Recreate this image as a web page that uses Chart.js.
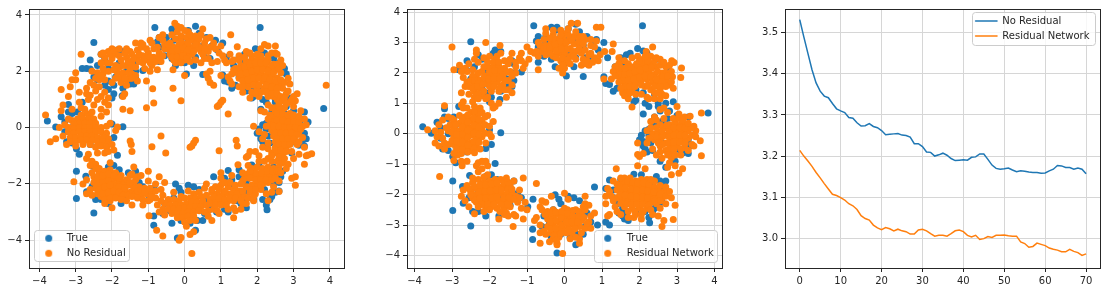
<!DOCTYPE html>
<html>
<head>
<meta charset="utf-8">
<script src="https://cdn.jsdelivr.net/npm/chart.js"></script>
<style>
  body { margin: 0; background: #fff; }
  canvas { position: absolute; top: 0; }
</style>
</head>
<body>
<canvas id="noResChart" width="360" height="292" style="left:0"></canvas>
<canvas id="resChart" width="360" height="292" style="left:370px"></canvas>
<canvas id="lossChart" width="357" height="292" style="left:750px"></canvas>
<script>
// ========== DATA ========== //
const trueTop = [[-0.82,3.55],[-0.35,3.5],[-0.2,3.5],[-0.25,3.4],[0.1,3.45],[0.3,3.6],[0.4,3.35],[-0.5,3.2],[-0.7,3.2],[-0.75,3.05],[-0.7,2.85],[-0.7,2.35],[-0.25,2.2],[0.05,1.9],[0.25,2.2],[0.5,1.88],[0.9,2.75],[1.05,3.0],[1.15,2.5],[-0.5,3.0],[-0.4,2.7],[-0.3,3.1],[-0.1,3.2],[0.1,3.1],[0.3,3.0],[0.5,2.9],[-0.1,2.7],[0.1,2.6],[0.3,2.5],[0.55,2.5],[0.7,2.45],[-0.35,2.45],[0,2.3],[0.6,3.2],[0.75,2.9],[-0.55,2.55],[0.85,3.1]];
const trueTopRight = [[2.08,3.55],[1.35,2.2],[1.5,2.5],[1.65,2.6],[1.75,2.65],[1.95,2.8],[2.1,2.72],[2.2,2.65],[1.05,1.87],[1.1,1.65],[1.2,1.62],[1.3,1.4],[1.4,1.5],[2.1,1.35],[1.9,1.1],[1.85,1.05],[2.1,0.65],[2.15,1.0],[2.25,0.9],[2.45,2.45],[2.6,2.3],[2.75,2.1],[2.8,1.9],[2.6,1.6],[2.4,1.3],[1.7,1.3],[1.5,1.8],[1.7,2.1],[2,1.8],[2.2,2.1],[2.5,1.0],[1.55,2.3],[1.9,1.45]];
const trueRight = [[3.83,0.68],[2.4,0.55],[2.7,1.0],[2.9,1.05],[2.8,0.75],[2.5,0.9],[2.55,0.75],[3.3,0.55],[3.0,0.6],[3.2,0.3],[3.4,0.2],[3.35,-0.4],[3.3,-0.65],[3.15,-0.63],[3.0,-0.5],[2.0,-0.2],[2.1,-0.4],[2.15,0.1],[2.3,-0.3],[2.15,-0.5],[2.55,-0.9],[2.7,-1.1],[2.95,-0.9],[3.2,0.1],[3.3,-0.2],[2.4,0.3],[2.6,0.4],[2.8,0.2],[2.6,-0.3],[2.9,-0.2],[2.25,-0.05],[3.05,0.25],[2.35,-0.55],[2.75,0.5],[2.05,-0.05],[2.1,-0.25],[2.2,-0.6],[2.25,0.15],[3.1,-0.55],[3.25,-0.45]];
const trueBottomRight = [[1.2,-1.52],[1.1,-1.8],[1.5,-1.5],[1.85,-1.33],[2.05,-1.35],[2.45,-1.4],[2.27,-2.92],[2.25,-2.75],[2.7,-1.55],[2.65,-1.75],[1.6,-2.8],[1.6,-2.6],[1.3,-1.85],[1.5,-1.75],[1.7,-1.9],[1.45,-2.6],[1.55,-2.45],[2.35,-2.55],[2.5,-2.3],[2.6,-2.25],[2.45,-2.0],[2.6,-1.95],[1.2,-3.0],[1.1,-2.9],[1.75,-2.3],[2.0,-2.0],[2.2,-2.2],[1.9,-2.55],[1.65,-2.7],[2.3,-1.7],[1.4,-2.3],[2.15,-2.55],[1.55,-2.7],[1.65,-2.55],[1.7,-2.85],[2.55,-1.55],[2.4,-2.45],[1.3,-2.1]];
const trueBottom = [[-0.85,-3.14],[-0.85,-3.47],[-0.84,-2.15],[-0.98,-2.4],[-0.2,-3.92],[0.3,-3.65],[0.5,-3.3],[0.8,-1.75],[0.88,-3.0],[-0.25,-2.0],[-0.55,-2.7],[-0.6,-3.05],[-0.35,-3.4],[-0.1,-3.3],[0.15,-3.4],[0.35,-3.3],[0.1,-2.05],[0.25,-2.1],[0.4,-2.2],[-0.1,-2.3],[0.6,-2.6],[0.7,-2.9],[-0.3,-2.5],[0,-2.8],[0.3,-2.7],[-0.4,-2.95],[0.55,-3.05],[-0.15,-2.15]];
const trueBottomLeft = [[-2.98,-1.55],[-2.98,-2.52],[-2.5,-3.03],[-2.53,-1.37],[-2.72,-1.73],[-2.7,-2.28],[-2.55,-2.1],[-2.45,-2.55],[-2.3,-2.55],[-2.1,-2.7],[-1.75,-2.7],[-2.1,-1.4],[-1.95,-1.35],[-1.8,-1.5],[-1.55,-1.6],[-1.35,-1.55],[-1.25,-1.95],[-1.15,-2.1],[-1.45,-2.35],[-1.6,-2.4],[-2.0,-1.7],[-2.3,-1.9],[-1.7,-2.0],[-1.9,-2.3],[-2.2,-2.2]];
const trueLeft = [[-3.78,0.23],[-3.55,0.02],[-3.4,0.38],[-3.2,0.55],[-3.2,0.82],[-3.1,0.5],[-2.95,0.55],[-3.3,0.2],[-3.3,-0.15],[-3.25,-0.5],[-3.1,-0.55],[-2.98,-0.75],[-2.9,-0.95],[-2.6,-0.6],[-2.4,-0.4],[-1.7,0.03],[-2.0,0.13],[-1.95,-0.35],[-2.1,-0.48],[-1.85,-0.98],[-2.82,0.9],[-2.9,0.3],[-2.6,0.2],[-2.75,-0.2],[-2.5,0.1],[-3.1,0.0]];
const trueTopLeft = [[-2.5,3.02],[-2.6,2.4],[-2.82,2.1],[-2.7,2.1],[-2.6,2.08],[-2.5,1.8],[-2.4,1.7],[-2.2,1.5],[-2.1,1.35],[-2.1,1.65],[-1.95,1.5],[-1.95,1.2],[-2.0,1.05],[-1.72,1.13],[-1.7,1.4],[-1.4,1.55],[-1.5,1.55],[-1.35,1.75],[-1.35,2.0],[-1.15,2.03],[-1.35,2.3],[-1.4,2.4],[-1.7,2.7],[-1.85,2.75],[-1.9,2.65],[-2.3,2.6],[-2.2,2.45],[-2.4,2.2],[-1.5,1.8],[-1.6,2.0],[-2.1,2.1],[-1.8,2.3],[-1.9,1.8]];
const truePoints = [...trueTop, ...trueTopRight, ...trueRight, ...trueBottomRight, ...trueBottom, ...trueBottomLeft, ...trueLeft, ...trueTopLeft];

const noResLeft = [[-3.83,0.45],[-3.7,-0.5],[-3.55,-0.4],[-3.4,1.35],[-3.35,0.8],[-3.4,0.6],[-3.15,1.45],[-3.2,1.1],[-3.1,0.65],[-3.1,1.7],[-3.0,1.7],[-3.0,1.95],[-2.85,2.6],[-2.9,1.25],[-2.7,1.4],[-2.7,1.2],[-2.9,0.9],[-2.65,1.0],[-2.5,0.8],[-2.4,1.0],[-2.3,1.1],[-2.2,0.9],[-2.3,0.65],[-2.1,1.05],[-2.1,0.8],[-2.75,0.65],[-2.7,0.5],[-2.85,0.45],[-2.6,0.45],[-2.95,0.3],[-2.8,0.3],[-2.65,0.3],[-2.5,0.3],[-3.1,0.25],[-3.2,0.3],[-2.9,0.15],[-2.75,0.15],[-2.6,0.15],[-2.45,0.15],[-3.05,0.1],[-3.3,0.1],[-3.45,0],[-3.2,0],[-3.05,-0.05],[-2.9,0],[-2.75,0],[-2.6,0],[-2.45,0],[-2.3,0],[-2.15,0.05],[-2.05,0.15],[-1.9,-0.1],[-1.85,0.02],[-3.2,-0.15],[-3.05,-0.2],[-2.9,-0.15],[-2.75,-0.15],[-2.6,-0.15],[-2.45,-0.15],[-2.3,-0.15],[-2.15,-0.2],[-3.15,-0.35],[-3,-0.35],[-2.85,-0.3],[-2.7,-0.3],[-2.55,-0.3],[-2.4,-0.35],[-2.25,-0.35],[-2.1,-0.4],[-3.15,-0.5],[-3,-0.5],[-2.85,-0.45],[-2.7,-0.45],[-2.55,-0.45],[-2.4,-0.5],[-2.25,-0.5],[-2.1,-0.55],[-3,-0.65],[-2.8,-0.6],[-2.6,-0.6],[-2.45,-0.7],[-2.3,-0.65],[-2.15,-0.7],[-2.4,-0.9],[-2.2,-0.9],[-2.1,-0.85],[-2.65,-0.95],[-2.7,-1.1],[-2.55,-1.2],[-2.45,-1.3]];
const noResBottomLeft = [[-3.05,-1.92],[-2.8,-2.0],[-2.7,-2.35],[-2.7,-1.85],[-2.45,-1.45],[-2.55,-1.6],[-2.5,-1.75],[-2.35,-1.6],[-2.2,-1.55],[-2.05,-1.25],[-2.05,-1.5],[-1.9,-1.6],[-1.75,-1.7],[-2.5,-1.95],[-2.35,-1.85],[-2.2,-1.75],[-2.05,-1.75],[-1.9,-1.8],[-1.75,-1.9],[-1.6,-1.85],[-2.45,-2.15],[-2.3,-2.05],[-2.15,-2.0],[-2,-1.95],[-1.85,-2.0],[-1.7,-2.05],[-2.4,-2.35],[-2.25,-2.25],[-2.1,-2.2],[-1.95,-2.15],[-1.8,-2.2],[-1.65,-2.25],[-2.3,-2.45],[-2.15,-2.4],[-2,-2.35],[-1.85,-2.4],[-2.2,-2.7],[-2.05,-2.6],[-2,-2.85],[-1.45,-2.75],[-1.15,-2.75],[-1.0,-2.6],[-1.4,-1.4],[-1.5,-1.7],[-1.45,-1.65],[-1.0,-1.55],[-1.0,-1.9],[-0.8,-2.0],[-0.7,-1.75],[-0.55,-1.95],[-1.55,-2.05],[-1.4,-2.0],[-1.25,-2.1],[-1.1,-2.15],[-1.5,-2.3],[-1.35,-2.3],[-1.2,-2.4],[-1.05,-2.35],[-0.9,-2.3],[-0.95,-2.55],[-0.8,-2.5],[-0.65,-2.2]];
const noResBottom = [[0.2,-4.47],[-0.6,-3.85],[-0.1,-3.9],[-0.15,-4.0],[0.15,-3.8],[0.25,-3.7],[-0.77,-3.65],[-0.98,-3.13],[-0.3,-2.3],[-0.1,-2.45],[0.1,-2.25],[0.25,-2.35],[0.4,-2.3],[0.55,-2.15],[-0.45,-2.55],[-0.3,-2.55],[-0.15,-2.6],[0,-2.5],[0.15,-2.5],[0.3,-2.5],[0.45,-2.45],[-0.55,-2.7],[-0.4,-2.75],[-0.25,-2.75],[-0.1,-2.75],[0.05,-2.7],[0.2,-2.65],[0.35,-2.65],[0.5,-2.6],[-0.6,-2.9],[-0.45,-2.9],[-0.3,-2.9],[-0.15,-2.9],[0,-2.85],[0.15,-2.85],[0.3,-2.8],[0.45,-2.8],[0.6,-2.75],[-0.35,-3.05],[-0.2,-3.05],[-0.05,-3.05],[0.1,-3.0],[0.25,-3.0],[0.4,-2.95],[-0.2,-3.2],[-0.05,-3.2],[0.1,-3.15],[0.25,-3.15],[0,-3.35],[0.15,-3.3],[0.05,-3.5],[0.3,-3.3]];
const noResBottomRight = [[0.75,-3.3],[0.8,-2.9],[0.9,-2.95],[0.7,-2.55],[0.85,-2.6],[1.0,-2.6],[0.75,-2.3],[0.9,-2.35],[1.05,-2.4],[1.2,-2.35],[0.6,-2.0],[0.85,-2.1],[1.0,-1.6],[1.0,-1.8],[1.0,-2.05],[1.2,-2.1],[1.35,-2.2],[1.5,-2.25],[1.2,-2.6],[1.35,-2.6],[1.5,-2.45],[1.65,-2.45],[1.35,-3.2],[1.2,-2.9],[1.4,-2.95],[1.6,-2.7],[1.7,-2.7],[1.9,-2.6],[2.3,-2.6],[2.6,-2.27],[2.6,-1.9],[1.47,-1.32],[1.8,-2.3],[1.95,-2.35],[2.1,-2.2],[1.7,-2.1],[1.85,-2.05],[2.0,-2.0],[2.15,-2.0],[2.3,-1.95],[1.75,-1.65],[1.9,-1.75],[2.05,-1.75],[2.2,-1.7],[2.35,-1.7],[2.5,-1.65],[1.85,-1.45],[2.0,-1.4],[2.15,-1.45],[2.3,-1.4],[2.45,-1.45],[2.6,-1.4],[2.3,-1.1],[2.4,-1.2],[2.55,-1.2],[2.7,-1.25],[3.05,-2.05],[3.05,-1.75],[2.95,-1.8],[1.6,-1.9]];
const noResRight = [[3.2,0.6],[3.0,0.75],[3.35,0.1],[3.3,-1.3],[3.35,-1.0],[3.4,-0.97],[3.5,-0.93],[3.15,-0.95],[3.0,-1.1],[1.9,0.05],[2.05,-0.15],[2.15,-0.4],[2.15,-0.7],[2.05,-1.0],[1.95,-0.85],[1.8,-0.85],[1.7,-1.05],[1.75,-1.0],[2.5,0.55],[2.65,0.6],[2.75,0.7],[2.9,0.5],[2.45,0.35],[2.6,0.35],[2.75,0.35],[2.9,0.3],[3.05,0.3],[2.35,0.1],[2.5,0.15],[2.65,0.15],[2.8,0.1],[2.95,0.1],[3.1,0.1],[3.25,0.05],[2.4,-0.1],[2.55,-0.05],[2.7,-0.1],[2.85,-0.1],[3,-0.1],[3.15,-0.15],[2.45,-0.3],[2.6,-0.3],[2.75,-0.3],[2.9,-0.3],[3.05,-0.3],[2.5,-0.5],[2.65,-0.5],[2.8,-0.5],[2.95,-0.5],[2.5,-0.7],[2.65,-0.7],[2.8,-0.7],[2.4,-0.9],[2.55,-0.9],[2.7,-0.95],[2.95,-0.85],[2.3,-0.75]];
const noResTopRight = [[1.6,1.25],[1.8,1.05],[2.05,1.1],[2.3,0.8],[2.1,0.6],[2.2,0.55],[2.35,0.45],[2.5,0.7],[2.8,1.2],[2.85,1.3],[2.9,1.55],[2.3,2.9],[2.2,2.95],[2.1,2.8],[2.5,2.9],[2.5,2.65],[2.55,2.6],[1.7,2.7],[1.5,2.55],[1.35,2.4],[3.0,1.1],[3.1,1.2],[2.9,0.9],[2.55,1.0],[1.4,2.1],[1.55,2.2],[1.7,2.35],[1.85,2.4],[2,2.4],[2.15,2.4],[2.3,2.4],[2.45,2.25],[1.45,1.95],[1.6,2.0],[1.75,2.1],[1.9,2.15],[2.05,2.15],[2.2,2.15],[2.35,2.1],[2.5,2.05],[2.65,1.95],[1.5,1.75],[1.65,1.8],[1.8,1.85],[1.95,1.9],[2.1,1.9],[2.25,1.85],[2.4,1.85],[2.55,1.75],[1.65,1.55],[1.8,1.6],[1.95,1.65],[2.15,1.65],[2.3,1.6],[2.45,1.55],[2.6,1.5],[2.0,1.35],[2.2,1.4],[2.35,1.3],[2.5,1.3],[2.3,1.1],[2.45,1.1],[2.7,1.4]];
const noResTop = [[-0.27,3.7],[-0.2,3.6],[-0.1,3.55],[0.1,3.4],[0.5,3.5],[0.7,3.2],[0.45,3.3],[1.27,3.3],[1.45,2.87],[1.25,2.6],[0.95,2.65],[1.0,2.9],[1.3,2.35],[1.15,2.3],[-0.4,3.0],[-0.25,3.15],[-0.1,3.25],[0.05,3.2],[0.2,3.1],[0.35,3.05],[0.55,3.0],[0.7,2.85],[-0.45,2.8],[-0.3,2.85],[-0.15,2.95],[0,2.95],[0.15,2.85],[0.3,2.8],[0.45,2.7],[0.65,2.7],[-0.4,2.6],[-0.25,2.6],[-0.1,2.7],[0.05,2.65],[0.2,2.6],[-0.3,2.4],[-0.15,2.45],[0,2.4],[0.1,2.5],[-0.32,2.05],[0,1.85],[0.6,1.9],[0.7,2.0],[0.65,1.75],[0.7,1.6],[0.8,1.5],[1.0,1.85],[1.2,1.8],[1.25,1.65],[1.3,1.55],[0.45,2.3]];
const noResTopLeft = [[-2.3,2.6],[-2.1,2.7],[-2.0,2.8],[-1.8,2.8],[-1.5,2.7],[-1.35,3.0],[-1.2,3.0],[-1.15,2.95],[-0.95,3.1],[-0.9,3.0],[-0.7,3.2],[-0.6,3.3],[-0.75,2.85],[-0.65,2.35],[-0.9,2.2],[-2.4,1.95],[-2.45,1.75],[-2.25,1.9],[-2.1,2.0],[-2.15,2.3],[-2.0,2.45],[-1.9,2.2],[-1.75,2.4],[-1.6,2.2],[-1.6,2.5],[-1.45,2.35],[-1.45,2.6],[-1.3,2.5],[-1.3,2.75],[-1.15,2.3],[-1.15,2.55],[-1.0,2.4],[-1.0,2.65],[-0.85,2.5],[-0.7,2.65],[-1.9,1.75],[-1.75,1.75],[-1.6,1.7],[-1.5,1.75],[-1.85,1.95],[-1.7,1.95],[-1.55,1.95],[-2.5,1.5],[-2.35,1.45],[-1.7,1.1],[-1.65,1.2],[-1.7,0.65],[-1.5,0.6],[-1.05,0.7],[-0.85,0.87],[-0.88,1.38],[-1.05,1.65]];
const noResInner = [[3.9,1.5],[-0.1,0.95],[-0.32,1.4],[0.9,0.75],[0.95,0.8],[1.0,0.9],[1.05,0.97],[1.2,0.48],[-0.65,-0.3],[-0.9,-0.68],[-0.52,-0.9],[0.15,-0.7],[0.2,-0.65],[0.25,-0.55],[0.3,-0.45],[0.95,-0.82],[1.42,-0.45],[1.45,-0.65],[-1.5,-0.48],[-1.47,-0.6],[-1.45,-0.85]];
const noResBandTop = [[-2.3,2.3],[-2.25,2.1],[-2.2,2.5],[-2.05,2.3],[-2.05,2.6],[-1.95,2.05],[-1.9,2.6],[-1.8,2.15],[-1.8,2.55],[-1.7,2.2],[-1.65,2.65],[-1.55,2.35],[-1.5,2.1],[-1.45,2.2],[-1.4,2.45],[-1.35,2.15],[-1.25,2.35],[-1.25,2.6],[-1.2,2.85],[-1.1,2.45],[-1.05,2.8],[-0.95,2.5],[-0.95,2.3],[-0.85,2.8],[-0.8,2.35],[-0.7,2.5],[-0.6,2.55],[-0.55,2.8],[-0.55,2.95],[-0.6,3.1],[-2.35,1.7],[-2.2,1.7],[-2.3,1.85],[-1.75,1.6],[-1.65,1.75],[-1.45,1.9],[-1.35,1.85],[-0.35,3.3],[-0.2,3.4],[0,3.45],[0.15,3.3],[0.3,3.25],[0.4,3.15],[0.6,3.15],[0.8,3.0],[0.85,2.8],[-0.45,2.95],[-0.35,2.7],[-0.2,2.75],[-0.05,2.85],[0.1,2.75],[0.25,2.7],[0.4,2.85],[0.55,2.8],[-0.35,2.5],[-0.2,2.5],[-0.05,2.55],[0.05,2.45],[-0.25,2.3],[-0.1,2.3],[0.15,2.35],[0.3,2.4],[-0.1,3.05],[0.1,3.0],[0.3,2.95],[0.5,2.6]];
const noResBandRight = [[1.5,2.4],[1.65,2.5],[1.85,2.55],[2.1,2.55],[2.3,2.55],[1.5,2.1],[1.65,2.15],[1.8,2.25],[1.95,2.3],[2.1,2.3],[2.25,2.3],[2.4,2.2],[2.55,2.25],[1.55,1.9],[1.7,1.95],[1.85,2.0],[2,2.05],[2.15,2.05],[2.3,2.0],[2.45,1.95],[2.6,2.1],[1.6,1.65],[1.75,1.7],[1.9,1.75],[2.05,1.75],[2.2,1.75],[2.35,1.7],[2.5,1.65],[2.65,1.7],[1.75,1.45],[1.9,1.5],[2.05,1.5],[2.25,1.5],[2.4,1.45],[2.55,1.4],[2.1,1.25],[2.25,1.25],[2.4,1.2],[2.55,1.2],[2.65,1.1],[2.7,0.95],[2.6,0.85],[2.75,1.05],[2.55,0.5],[2.7,0.5],[2.85,0.45],[3.0,0.45],[2.4,0.2],[2.55,0.25],[2.7,0.25],[2.85,0.2],[3.0,0.2],[3.15,0.2],[2.45,0.05],[2.6,0.05],[2.75,0],[2.9,0],[3.05,0],[3.2,-0.05],[2.5,-0.2],[2.65,-0.2],[2.8,-0.2],[2.95,-0.2],[3.1,-0.25],[2.55,-0.4],[2.7,-0.4],[2.85,-0.4],[3,-0.4],[2.6,-0.6],[2.75,-0.6],[2.9,-0.6],[2.5,-0.8],[2.65,-0.8],[2.8,-0.85],[2.4,-1.0],[2.6,-1.05],[2.75,-1.1]];
const noResBandBottom = [[2.4,-1.55],[2.55,-1.55],[2.25,-1.55],[2.1,-1.6],[1.95,-1.6],[1.8,-1.55],[1.65,-1.8],[1.8,-1.8],[1.95,-1.85],[2.1,-1.85],[2.25,-1.85],[2.4,-1.85],[1.55,-2.0],[1.4,-2.05],[1.25,-1.95],[1.1,-1.95],[0.95,-2.2],[1.1,-2.25],[1.3,-2.35],[1.45,-2.35],[1.6,-2.25],[1.8,-2.2],[1.95,-2.2],[2.1,-2.05],[0.8,-2.45],[0.95,-2.5],[1.1,-2.55],[1.25,-2.5],[1.4,-2.5],[1.55,-2.6],[0.7,-2.7],[0.85,-2.75],[1.0,-2.75],[0.65,-2.95],[1.75,-2.5],[1.9,-2.45],[2.6,-1.55],[-2.4,-1.75],[-2.25,-1.7],[-2.1,-1.65],[-1.95,-1.7],[-1.8,-1.8],[-2.4,-2.05],[-2.25,-1.95],[-2.1,-1.9],[-1.95,-2.05],[-1.8,-2.1],[-1.65,-2.15],[-2.35,-2.2],[-2.2,-2.1],[-2.05,-2.05],[-2.25,-2.35],[-2.1,-2.3],[-1.95,-2.25],[-1.8,-2.3],[-2.2,-2.55],[-2.05,-2.5],[-1.9,-2.5],[-1.7,-2.4],[-1.55,-2.4],[-1.4,-2.15],[-1.3,-2.25],[-1.2,-2.2],[-1.1,-2.3],[-1.45,-2.45],[-1.3,-2.5],[-1.15,-2.55],[-0.9,-2.45],[-0.8,-2.25],[-1.5,-1.95],[-1.35,-1.85],[-0.95,-2.15]];
const noResFringe = [[-2.55,2.0],[-2.6,1.6],[-2.45,1.3],[-2.6,1.15],[-2.2,1.25],[-2.0,1.6],[-2.25,2.65],[-1.95,2.75],[-1.6,2.8],[-1.1,2.1],[-0.95,2.0],[-0.75,2.05],[-1.3,1.65],[-1.45,1.75],[-1.6,1.5],[-2.55,0.55],[-2.85,0.7],[-2.3,0.4],[-2.15,0.55],[-3.25,-0.6],[-3.35,-0.3],[-2.0,-0.6],[-1.95,-0.8],[-2.6,-1.35],[-2.35,-1.45],[-2.6,-2.2],[-2.55,-2.4],[-1.75,-2.55],[-1.6,-2.6],[-1.3,-1.75],[-1.2,-1.7],[-0.6,-2.4],[-0.75,-2.75],[-0.65,-2.6],[-0.7,-3.0],[-0.55,-3.1],[0.6,-2.4],[0.55,-3.0],[0.65,-3.15],[0.75,-2.2],[0.95,-3.05],[1.15,-2.75],[1.35,-2.85],[1.55,-2.9],[1.05,-1.95],[1.3,-1.7],[1.6,-1.6],[1.75,-1.35],[2.2,-1.2],[2.05,-1.2],[2.45,-2.1],[2.4,-2.3],[2.25,-2.35],[2.5,-1.8],[2.85,-1.3],[2.8,-1.45],[2.65,-1.6],[3.1,-0.6],[3.15,-0.5],[3.25,-0.35],[3.3,0.3],[3.15,0.4],[3.3,-0.7],[2.25,0.05],[2.3,0.3],[2.2,-0.25],[2.3,-0.55],[2.4,0.7],[2.6,0.75],[2.8,0.85],[2.95,1.0],[3.05,0.95],[2.75,1.6],[2.85,1.75],[2.7,2.2],[2.65,2.4],[2.4,2.65],[2.0,2.6],[1.8,2.65],[1.35,2.05],[1.3,1.9],[1.5,1.45],[1.6,1.45],[1.85,1.25],[1.95,1.2],[1.05,2.55],[0.9,2.35],[0.75,2.3],[0.65,2.45],[0.55,2.45],[1.1,2.4]];
const noResPoints = [...noResLeft, ...noResBottomLeft, ...noResBottom, ...noResBottomRight, ...noResRight, ...noResTopRight, ...noResTop, ...noResTopLeft, ...noResInner, ...noResBandTop, ...noResBandRight, ...noResBandBottom, ...noResFringe];

const resLeft = [[-3.65,0.13],[-3.2,0.92],[-3.25,0.45],[-3.4,-0.1],[-3.45,-0.3],[-3.25,-0.15],[-3.1,0.1],[-3.1,-0.35],[-3.05,0.3],[-2.95,0.45],[-2.95,0.15],[-2.95,-0.1],[-2.95,-0.35],[-2.8,0.6],[-2.8,0.35],[-2.8,0.1],[-2.8,-0.15],[-2.8,-0.4],[-2.65,0.55],[-2.65,0.3],[-2.65,0.05],[-2.65,-0.2],[-2.65,-0.45],[-2.5,0.7],[-2.5,0.45],[-2.5,0.2],[-2.5,-0.05],[-2.5,-0.3],[-2.5,-0.55],[-2.35,0.6],[-2.35,0.35],[-2.35,0.1],[-2.35,-0.15],[-2.35,-0.35],[-2.2,0.7],[-2.2,0.4],[-2.2,0.15],[-2.2,-0.1],[-2.75,-0.65],[-2.85,-0.7],[-2.05,0.6],[-1.95,-0.1],[-2.75,0.95],[-2.7,0.85],[-2.95,-0.88],[-2.75,-0.9],[-2.73,-1.05],[-2.6,-0.9],[-3.3,0.05],[-3.2,-0.3],[-3.15,0.2],[-3.0,0.05],[-3.0,-0.22],[-2.9,0.3],[-2.88,-0.02],[-2.88,-0.25],[-2.88,-0.5],[-2.72,0.48],[-2.72,0.22],[-2.72,-0.02],[-2.72,-0.28],[-2.72,-0.52],[-2.58,0.62],[-2.58,0.38],[-2.58,0.12],[-2.58,-0.12],[-2.58,-0.38],[-2.58,-0.6],[-2.42,0.52],[-2.42,0.28],[-2.42,0.02],[-2.42,-0.25],[-2.42,-0.48],[-2.28,0.68],[-2.28,0.48],[-2.28,0.22],[-2.28,-0.02],[-2.28,-0.28],[-2.12,0.3],[-2.12,0.02],[-2.12,0.55],[-2.4,0.75],[-3.0,0.5]];
const resBottomLeft = [[-3.33,-1.4],[-2.35,-1.05],[-2.3,-0.95],[-2.2,-0.9],[-2.1,-0.9],[-2.05,-1.05],[-2.3,-1.25],[-2.05,-1.35],[-2.2,-1.15],[-2.15,-0.92],[-2.6,-1.7],[-2.7,-1.85],[-2.45,-1.6],[-2.3,-1.5],[-2.15,-1.6],[-2.0,-1.55],[-1.85,-1.5],[-1.7,-1.5],[-1.55,-1.55],[-2.5,-1.9],[-2.35,-1.8],[-2.2,-1.8],[-2.05,-1.75],[-1.9,-1.75],[-1.75,-1.75],[-1.6,-1.75],[-1.45,-1.7],[-2.45,-2.1],[-2.3,-2.05],[-2.15,-2.0],[-2,-2.0],[-1.85,-1.95],[-1.7,-1.95],[-1.55,-2.0],[-1.4,-1.95],[-2.35,-2.25],[-2.2,-2.2],[-2.05,-2.2],[-1.9,-2.2],[-1.75,-2.2],[-1.6,-2.2],[-1.45,-2.2],[-2.1,-2.4],[-1.95,-2.4],[-1.8,-2.45],[-1.6,-2.45],[-1.45,-2.4],[-2.4,-2.63],[-1.75,-2.8],[-1.55,-2.6],[-1.1,-1.45],[-1.35,-1.55],[-1.37,-3.05],[-1.1,-2.8],[-1.15,-2.45],[-1.35,-2.65],[-1.25,-2.25],[-1.3,-2.05],[-1.3,-2.7],[-2.55,-1.8],[-2.4,-1.72],[-2.25,-1.68],[-2.1,-1.68],[-1.95,-1.65],[-1.8,-1.62],[-1.62,-1.62],[-1.5,-1.6],[-2.42,-2.0],[-2.28,-1.92],[-2.12,-1.9],[-1.98,-1.88],[-1.82,-1.85],[-1.68,-1.85],[-1.52,-1.85],[-1.4,-1.82],[-2.4,-2.18],[-2.25,-2.12],[-2.1,-2.1],[-1.95,-2.1],[-1.8,-2.08],[-1.62,-2.1],[-1.48,-2.1],[-2.2,-2.32],[-2.05,-2.32],[-1.88,-2.32],[-1.7,-2.32],[-1.52,-2.32],[-2.3,-2.4],[-2.0,-2.5],[-1.72,-2.55],[-2.5,-2.0],[-1.35,-2.15]];
const resBottom = [[-0.75,-1.63],[-0.35,-2.05],[0,-1.95],[0.1,-2.15],[-0.6,-2.2],[-0.5,-2.25],[-0.8,-2.85],[-0.75,-2.75],[-0.65,-3.25],[-0.65,-3.6],[-0.4,-3.55],[-0.2,-3.6],[-0.2,-3.65],[0.4,-3.6],[0.4,-3.45],[-0.05,-3.93],[0.55,-2.05],[0.55,-2.3],[0.65,-2.35],[0.7,-2.7],[0.8,-2.6],[0.65,-2.9],[0.55,-3.1],[0.7,-3.1],[-0.45,-2.55],[-0.3,-2.5],[-0.45,-2.8],[-0.3,-2.75],[-0.15,-2.65],[0,-2.45],[0.15,-2.55],[0.3,-2.5],[0.45,-2.6],[-0.45,-3.05],[-0.3,-3.0],[-0.15,-2.9],[0,-2.7],[0.15,-2.8],[0.3,-2.75],[0.45,-2.85],[-0.35,-3.25],[-0.2,-3.2],[-0.05,-3.1],[0.1,-3.0],[0.25,-3.0],[0.4,-3.05],[-0.3,-3.45],[-0.15,-3.4],[0.05,-3.25],[0.2,-3.25],[-0.38,-2.62],[-0.22,-2.58],[-0.08,-2.55],[0.08,-2.5],[0.22,-2.52],[0.38,-2.55],[-0.38,-2.9],[-0.22,-2.85],[-0.08,-2.78],[0.08,-2.62],[0.22,-2.7],[0.38,-2.72],[0.52,-2.75],[-0.38,-3.12],[-0.22,-3.1],[-0.08,-3.0],[0.05,-2.9],[0.2,-2.9],[0.35,-2.9],[-0.28,-3.35],[-0.1,-3.28],[0.12,-3.15],[0.28,-3.12],[-0.52,-2.65],[-0.22,-3.5],[-0.5,-3.3]];
const resBottomRight = [[1.38,-1.15],[1.95,-1.05],[2.15,-1.15],[1.3,-1.55],[1.15,-1.8],[1.1,-2.05],[1.1,-2.3],[1.35,-2.4],[1.2,-2.65],[1.15,-2.7],[1.7,-2.75],[1.85,-2.75],[2.05,-2.8],[2.5,-2.7],[2.65,-2.85],[2.6,-3.05],[2.9,-2.82],[2.95,-2.35],[2.7,-2.3],[1.6,-1.45],[1.75,-1.45],[1.9,-1.55],[2.05,-1.5],[2.2,-1.5],[1.7,-1.65],[1.85,-1.75],[2.0,-1.7],[2.15,-1.75],[2.3,-1.8],[2.5,-1.85],[2.65,-1.9],[1.4,-1.85],[1.55,-1.9],[1.7,-1.9],[1.85,-1.95],[2.0,-1.95],[2.15,-2.0],[2.3,-2.0],[2.45,-2.05],[2.6,-2.1],[1.4,-2.1],[1.55,-2.15],[1.7,-2.2],[1.85,-2.2],[2.0,-2.2],[2.15,-2.2],[2.3,-2.25],[2.45,-2.3],[1.6,-2.4],[1.8,-2.45],[2.0,-2.45],[2.2,-2.45],[1.9,-2.65],[1.55,-1.6],[1.68,-1.55],[1.82,-1.6],[1.95,-1.62],[2.1,-1.62],[2.25,-1.65],[2.4,-1.75],[1.48,-1.75],[1.62,-1.78],[1.78,-1.82],[1.92,-1.85],[2.08,-1.85],[2.22,-1.88],[2.38,-1.92],[2.55,-1.98],[1.48,-2.0],[1.62,-2.02],[1.78,-2.05],[1.92,-2.08],[2.08,-2.08],[2.22,-2.1],[2.38,-2.15],[2.55,-2.2],[2.7,-2.05],[1.5,-2.28],[1.65,-2.3],[1.78,-2.32],[1.92,-2.32],[2.08,-2.32],[2.25,-2.35],[2.4,-2.2],[1.7,-2.55],[1.88,-2.55],[2.1,-2.55],[2.3,-2.5]];
const resRight = [[3.65,0.68],[3.62,-0.23],[3.65,-0.72],[3.35,0.58],[3.2,0.55],[3.0,0.9],[2.55,0.8],[2.2,-0.3],[2.0,-0.75],[1.95,-0.68],[2.1,-0.65],[1.95,-0.3],[2.35,-0.5],[2.6,-0.8],[2.85,-0.78],[2.8,-0.95],[2.75,-1.1],[2.95,-1.05],[2.85,-1.35],[3.05,-1.3],[3.15,-1.15],[2.2,0.1],[2.35,0.0],[2.5,0.05],[2.65,0.2],[2.8,0.3],[2.95,0.35],[3.1,0.3],[3.25,0.3],[3.45,0.25],[3.5,0.1],[2.4,-0.2],[2.55,-0.2],[2.7,-0.05],[2.85,0.05],[3,0.1],[3.15,0.05],[3.3,0.1],[2.55,-0.4],[2.7,-0.3],[2.85,-0.2],[3,-0.15],[3.15,-0.2],[3.3,-0.15],[2.7,-0.55],[2.85,-0.45],[3,-0.4],[3.2,-0.45],[2.85,-0.65],[2.65,0.5],[2.75,0.7],[2.45,0.45],[2.3,0.4],[2.45,-0.1],[2.6,-0.1],[2.78,0.1],[2.92,0.2],[3.08,0.2],[3.22,0.2],[3.38,0.2],[2.5,-0.3],[2.62,-0.05],[2.78,-0.1],[2.92,-0.05],[3.08,-0.05],[3.22,-0.05],[3.4,-0.05],[2.62,-0.35],[2.78,-0.3],[2.92,-0.28],[3.08,-0.28],[3.22,-0.3],[2.78,-0.5],[2.92,-0.52],[3.1,-0.5],[2.6,0.1],[2.72,0.28],[2.55,0.3],[2.45,0.2],[2.9,0.5],[3.05,0.5],[3.3,0.35],[2.75,-0.7],[3.4,-0.35]];
const resTopRight = [[2.35,2.85],[2.18,2.7],[1.3,2.95],[1.07,2.7],[1.27,2.7],[2.86,2.4],[2.92,2.34],[3.12,2.16],[3.1,1.85],[2.88,1.87],[1.05,1.8],[1.25,1.8],[1.45,2.3],[1.7,2.3],[1.95,2.55],[2.1,2.45],[2.3,2.55],[2.55,2.45],[2.7,2.2],[1.4,2.05],[1.55,2.05],[1.7,2.05],[1.85,2.15],[2,2.2],[2.15,2.25],[2.3,2.3],[2.45,2.2],[2.6,2.0],[1.5,1.85],[1.65,1.85],[1.8,1.9],[1.95,1.95],[2.1,2.0],[2.25,2.05],[2.4,1.95],[2.55,1.85],[2.7,1.75],[1.6,1.65],[1.75,1.65],[1.9,1.7],[2.05,1.75],[2.2,1.8],[2.35,1.7],[2.5,1.6],[1.65,1.45],[1.8,1.45],[2.15,1.55],[2.3,1.45],[2.6,1.3],[2.7,1.25],[1.7,1.15],[1.8,0.88],[2.25,1.15],[2.4,1.15],[2.55,1.15],[1.48,2.2],[1.62,2.15],[1.78,2.2],[1.92,2.3],[2.08,2.35],[2.22,2.4],[2.4,2.4],[2.55,2.25],[2.7,2.0],[1.45,1.95],[1.6,1.95],[1.75,1.98],[1.88,2.05],[2.02,2.1],[2.18,2.15],[2.32,2.15],[2.48,2.05],[2.62,1.88],[1.55,1.75],[1.7,1.75],[1.85,1.8],[2.0,1.85],[2.15,1.9],[2.3,1.88],[2.45,1.78],[2.6,1.7],[1.62,1.55],[1.75,1.55],[1.88,1.55],[2.05,1.6],[2.22,1.6],[2.4,1.55],[2.55,1.45],[1.55,1.35],[1.75,1.35],[2.4,1.35],[2.5,1.35],[1.6,1.25],[2.8,1.6],[2.85,2.05]];
const resTop = [[0.18,3.63],[0.35,3.63],[0.85,3.5],[0.97,3.5],[-0.5,3.3],[-0.3,3.25],[-0.1,3.4],[0.05,3.3],[0.25,3.2],[0.55,3.1],[0.7,2.9],[0.8,2.85],[0.9,2.4],[0.8,2.5],[0.65,2.6],[0.65,2.25],[0.45,2.25],[-0.05,2.2],[-0.7,2.1],[-0.65,2.9],[-0.5,2.9],[-0.35,3.0],[-0.2,3.1],[-0.05,3.15],[0.1,3.05],[0.25,2.95],[0.4,2.9],[-0.6,2.7],[-0.45,2.7],[-0.3,2.8],[-0.15,2.9],[0,2.9],[0.15,2.8],[0.3,2.7],[0.45,2.65],[-0.3,2.55],[-0.15,2.65],[0,2.65],[0.15,2.55],[0.3,2.45],[-0.1,2.4],[0.05,2.35],[0,2.15],[-0.55,2.8],[-0.4,2.85],[-0.25,2.95],[-0.1,3.05],[0.05,3.0],[0.2,3.1],[0.38,3.05],[0.5,2.95],[-0.5,2.6],[-0.38,2.62],[-0.22,2.72],[-0.08,2.78],[0.08,2.78],[0.22,2.7],[0.38,2.78],[0.55,2.75],[-0.22,2.5],[-0.05,2.5],[0.1,2.45],[0.25,2.55],[-0.1,3.25],[0.1,3.25],[-0.3,3.15],[-0.4,3.15],[0.4,3.2],[0.15,2.3],[-0.05,2.25],[0.7,2.65],[0.6,2.4],[0.5,2.45]];
const resTopLeft = [[-3.0,2.85],[-2.1,3.0],[-1.72,2.9],[-2.35,2.75],[-2.35,2.65],[-1,2.85],[-0.9,2.7],[-0.8,2.65],[-1.15,2.65],[-1.15,2.4],[-1.05,2.3],[-1.1,2.15],[-1.3,2.2],[-1.4,2.65],[-2.95,2.1],[-2.8,2.25],[-2.65,2.15],[-2.7,1.85],[-2.6,2.05],[-2.45,2.1],[-2.3,2.35],[-2.15,2.5],[-2.0,2.55],[-1.85,2.45],[-1.6,2.4],[-2.5,1.75],[-2.35,1.85],[-2.2,2.05],[-2.05,2.2],[-1.9,2.2],[-1.75,2.2],[-1.6,2.15],[-1.45,2.05],[-1.3,2.0],[-2.55,1.55],[-2.4,1.65],[-2.25,1.75],[-2.1,1.9],[-1.95,1.95],[-1.8,1.95],[-1.65,1.9],[-1.5,1.75],[-2.4,1.4],[-2.25,1.5],[-2.1,1.65],[-1.95,1.7],[-1.8,1.7],[-1.65,1.6],[-2.4,1.2],[-2.2,1.25],[-2.05,1.2],[-1.95,1.4],[-1.75,1.4],[-1.4,1.35],[-2.75,1.35],[-2.7,1.05],[-1.95,1.0],[-1.9,0.85],[-1.85,0.9],[-1.75,1.0],[-1.9,0.4],[-2.45,1.9],[-2.3,2.0],[-2.15,2.2],[-2.05,2.35],[-1.9,2.35],[-1.75,2.35],[-1.5,2.3],[-2.4,1.75],[-2.3,1.65],[-2.15,1.85],[-2.0,2.05],[-1.85,2.08],[-1.7,2.08],[-1.55,2.02],[-1.4,1.9],[-2.45,1.5],[-2.32,1.55],[-2.18,1.62],[-2.02,1.8],[-1.88,1.82],[-1.72,1.82],[-1.58,1.75],[-2.3,1.3],[-2.15,1.4],[-2.0,1.55],[-1.88,1.55],[-1.72,1.52],[-1.6,1.45],[-2.3,1.15],[-2.1,1.15]];
const resFringe = [[-3.45,0.1],[-3.35,0.3],[-3.35,-0.4],[-3.2,-0.5],[-3.1,0.55],[-2.95,-0.65],[-2.6,0.85],[-2.4,0.9],[-2.25,0.85],[-2.0,0.25],[-2.0,0.0],[-2.1,-0.3],[-2.25,-0.5],[-2.4,-0.62],[-2.75,2.05],[-2.55,2.3],[-2.4,2.45],[-2.6,1.7],[-2.65,1.55],[-2.55,1.3],[-2.45,1.05],[-1.8,2.55],[-1.7,2.65],[-1.45,2.45],[-1.3,2.35],[-1.4,1.6],[-1.5,1.45],[-1.55,1.2],[-1.2,2.5],[-0.95,2.45],[-2.75,-2.05],[-2.65,-2.2],[-2.55,-2.4],[-2.45,-1.45],[-2.15,-1.42],[-1.2,-1.85],[-1.2,-2.1],[-1.05,-2.25],[-1.0,-2.5],[-1.55,-1.45],[-1.6,-2.65],[-1.5,-2.7],[-2.15,-2.55],[-0.6,-2.5],[-0.65,-2.4],[-0.65,-3.0],[-0.55,-3.2],[0.5,-2.4],[0.55,-2.5],[0.6,-2.95],[0.15,-3.45],[0.3,-3.4],[0.45,-3.25],[1.25,-2.05],[1.3,-2.2],[1.4,-2.55],[1.4,-1.65],[1.5,-1.45],[2.4,-1.55],[2.55,-1.7],[2.7,-1.75],[2.85,-2.1],[2.8,-1.9],[2.55,-2.45],[2.35,-2.65],[2.05,-2.65],[1.5,-2.65],[2.3,-1.5],[1.2,-1.9],[3.05,0.65],[3.15,0.45],[3.5,-0.1],[3.45,-0.4],[3.3,-0.55],[3.1,-0.7],[2.95,-0.7],[2.25,-0.15],[2.3,0.2],[2.4,0.55],[2.65,0.85],[2.55,-0.6],[2.45,-0.7],[1.35,2.2],[1.3,2.05],[1.35,1.9],[1.45,1.7],[1.5,1.5],[1.45,2.5],[1.6,2.4],[1.8,2.5],[2.0,2.4],[2.15,2.55],[2.45,2.5],[2.65,2.35],[2.8,2.25],[2.75,1.9],[2.85,1.7],[2.7,1.55],[2.55,1.55],[2.9,1.5],[1.9,1.3],[2.05,1.3],[2.2,1.2],[0.55,2.3],[0.75,2.35],[-0.7,2.55],[-0.75,2.7],[-0.7,3.0],[-0.55,3.1],[-0.5,3.45],[-0.3,3.4],[0.1,3.45],[0.3,3.35],[0.5,3.2],[0.7,3.1],[0.85,3.05],[0.95,2.6],[-0.05,2.0],[-0.15,2.15]];
const resPoints = [...resLeft, ...resBottomLeft, ...resBottom, ...resBottomRight, ...resRight, ...resTopRight, ...resTop, ...resTopLeft, ...resFringe];

const epochs = [0,1,2,3,4,5,6,7,8,9,10,11,12,13,14,15,16,17,18,19,20,21,22,23,24,25,26,27,28,29,30,31,32,33,34,35,36,37,38,39,40,41,42,43,44,45,46,47,48,49,50,51,52,53,54,55,56,57,58,59,60,61,62,63,64,65,66,67,68,69,70];
const lossNoRes = [3.532,3.49,3.45,3.41,3.378,3.358,3.346,3.342,3.328,3.315,3.31,3.306,3.294,3.292,3.281,3.273,3.274,3.279,3.272,3.269,3.262,3.252,3.253,3.254,3.255,3.251,3.25,3.246,3.23,3.23,3.223,3.21,3.209,3.2,3.203,3.207,3.202,3.194,3.189,3.19,3.191,3.19,3.197,3.198,3.205,3.205,3.192,3.178,3.17,3.168,3.169,3.171,3.166,3.162,3.164,3.163,3.161,3.16,3.16,3.158,3.159,3.164,3.168,3.177,3.176,3.172,3.172,3.168,3.171,3.168,3.157];
const lossRes = [3.214,3.2,3.188,3.175,3.16,3.147,3.133,3.12,3.107,3.104,3.099,3.093,3.084,3.079,3.07,3.055,3.048,3.044,3.032,3.025,3.021,3.026,3.023,3.018,3.022,3.018,3.016,3.01,3.01,3.02,3.022,3.018,3.011,3.005,3.007,3.007,3.005,3.011,3.018,3.02,3.016,3.007,3.003,3.007,2.997,2.999,3.004,3.002,3.007,3.007,3.008,3.006,3.005,3.005,2.991,2.987,2.978,2.98,2.988,2.985,2.982,2.976,2.973,2.971,2.967,2.967,2.973,2.968,2.965,2.958,2.962];

// ========== STYLE ========== //
const BLUE = '#1f77b4';
const ORANGE = '#ff7f0e';
const INK = '#262626';
const GRID = '#d6d6d6';
Chart.defaults.font.family = '"DejaVu Sans"';
Chart.defaults.font.size = 10;
Chart.defaults.color = INK;
Chart.defaults.animation = false;

const minusLabel = v => String(Number(v.toFixed(1))).replace('-', '\u2212');
const toXY = pts => pts.map(p => ({x: p[0], y: p[1]}));

function axis(min, max, step, label) {
    return {
        type: 'linear',
        min, max,
        border: {color: INK, width: 1},
        grid: {color: GRID, lineWidth: 1, tickColor: INK, tickLength: 4},
        ticks: {stepSize: step, includeBounds: false, padding: 3, maxRotation: 0, autoSkip: false, callback: label || minusLabel}
    };
}

// round legend marker, the builtin one turns into an ellipse when the box is wider
function dotImage(color) {
    const c = document.createElement('canvas');
    c.width = 9;
    c.height = 9;
    const g = c.getContext('2d');
    g.fillStyle = color;
    g.beginPath();
    g.arc(4.5, 4.5, 3.5, 0, Math.PI * 2);
    g.fill();
    return c;
}

// black frame + legend moved to its matplotlib spot, with a box drawn over the marks
function frameAndLegend(box, legendAt) {
    return {
        id: 'frameAndLegend',
        afterInit(chart) {
            chart.legend._layers = () => [{z: 10, draw(area) {
                const c = chart.ctx;
                c.save();
                c.beginPath();
                c.roundRect(box.l + 0.5, box.t + 0.5, box.r - box.l, box.b - box.t, 3);
                c.fillStyle = 'rgba(255,255,255,0.8)';
                c.fill();
                c.strokeStyle = '#cccccc';
                c.lineWidth = 1;
                c.stroke();
                c.restore();
                chart.legend.draw(area);
            }}];
        },
        afterLayout(chart) {
            const lg = chart.legend;
            lg.left = legendAt.x;
            lg.top = legendAt.y;
            lg.right = legendAt.x + 200;
            lg.bottom = legendAt.y + 100;
        },
        afterDatasetsDraw(chart) {
            const a = chart.chartArea, c = chart.ctx;
            c.save();
            c.strokeStyle = INK;
            c.lineWidth = 1;
            c.strokeRect(Math.round(a.left) + 0.5, Math.round(a.top) + 0.5, Math.round(a.right - a.left), Math.round(a.bottom - a.top));
            c.restore();
        }
    };
}

function baseOptions(xAxis, yAxis, yWidth, padRight, legendLabels) {
    xAxis.afterFit = s => { s.height = 24; };
    yAxis.afterFit = s => { s.width = yWidth; };
    return {
        responsive: false,
        layout: {padding: {top: 7, right: padRight, left: 0, bottom: 0}},
        scales: {x: xAxis, y: yAxis},
        plugins: {
            tooltip: {enabled: false},
            legend: {
                position: 'chartArea',
                align: 'start',
                labels: Object.assign({
                    padding: 5,
                    color: INK,
                    sort: (a, b) => a.datasetIndex - b.datasetIndex
                }, legendLabels)
            }
        }
    };
}

function scatterChart(id, label, points, xAxis, yAxis, yWidth, padRight, box, legendAt, dotBox) {
    const dots = (name, pts, color, order) => ({
        label: name, data: toXY(pts), order,
        showLine: false, pointStyle: 'circle',
        pointRadius: 3.5, pointBorderWidth: 0,
        backgroundColor: color, borderColor: color, borderWidth: 0
    });
    new Chart(document.getElementById(id), {
        type: 'scatter',
        data: {datasets: [dots('True', truePoints, BLUE, 2), dots(label, points, ORANGE, 1)]},
        options: baseOptions(xAxis, yAxis, yWidth, padRight, {
            usePointStyle: true,
            pointStyleWidth: dotBox,
            generateLabels(chart) {
                const items = Chart.defaults.plugins.legend.labels.generateLabels(chart);
                items.forEach(it => { it.pointStyle = dotImage(it.fillStyle); });
                return items;
            }
        }),
        plugins: [frameAndLegend(box, legendAt)]
    });
}

// ========== CHARTS ========== //
scatterChart('noResChart', 'No Residual', noResPoints,
    axis(-4.286, 4.39, 1), axis(-4.986, 4.21, 2),
    29, 16, {l: 34, t: 230, r: 129, b: 261}, {x: 30.7, y: 228.3}, 26);

scatterChart('resChart', 'Residual Network', resPoints,
    axis(-4.2, 4.2, 1), axis(-4.41, 4.1, 1),
    37, 8, {l: 224, t: 230, r: 347, b: 262}, {x: 218.7, y: 228.3}, 28);

new Chart(document.getElementById('lossChart'), {
    type: 'line',
    data: {
        labels: epochs,
        datasets: [
            {label: 'No Residual', data: lossNoRes, borderColor: BLUE, backgroundColor: BLUE, borderWidth: 1.5, pointRadius: 0, tension: 0},
            {label: 'Residual Network', data: lossRes, borderColor: ORANGE, backgroundColor: ORANGE, borderWidth: 1.5, pointRadius: 0, tension: 0}
        ]
    },
    options: baseOptions(axis(-3.6, 73.4, 10), axis(2.9275, 3.558, 0.1, v => v.toFixed(1)), 35, 7, {
        boxWidth: 22,
        boxHeight: 1,
        generateLabels(chart) {
            const items = Chart.defaults.plugins.legend.labels.generateLabels(chart);
            items.forEach(it => { it.lineWidth = 0.5; });
            return items;
        }
    }),
    plugins: [frameAndLegend({l: 222, t: 12, r: 345, b: 45}, {x: 220.3, y: 11})]
});
</script>
</body>
</html>
